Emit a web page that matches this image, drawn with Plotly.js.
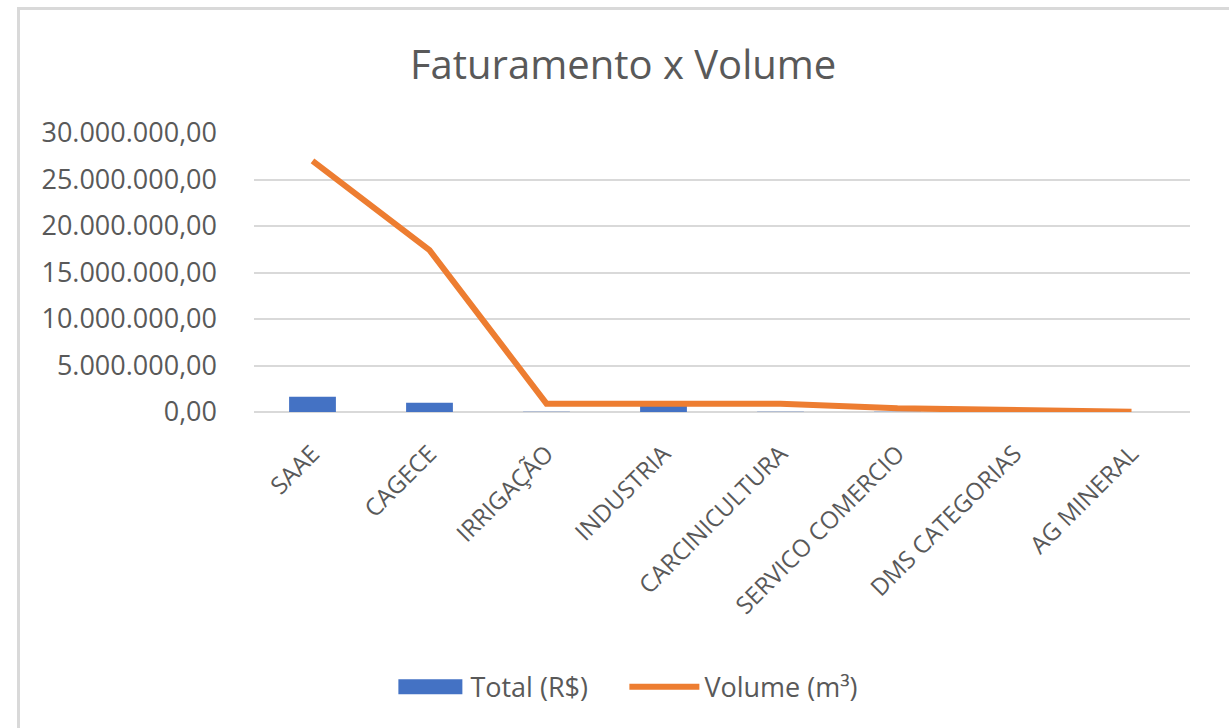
<!DOCTYPE html>
<html>
<head>
<meta charset="utf-8">
<script src="https://cdn.plot.ly/plotly-3.0.1.min.js"></script>
<style>
  html, body { margin: 0; padding: 0; background: #ffffff; overflow: hidden; }
  #frame { position: absolute; left: 17px; top: 7px; width: 1220px; height: 760px; border: 3px solid #d9d9d9; box-sizing: border-box; }
  #chart { position: absolute; left: 0; top: 0; width: 1229px; height: 728px; }
</style>
</head>
<body>
<div id="frame"></div>
<div id="chart"></div>
<script>
const categories = ["SAAE", "CAGECE", "IRRIGAÇÃO", "INDUSTRIA", "CARCINICULTURA", "SERVICO COMERCIO", "DMS CATEGORIAS", "AG MINERAL"];
const totalRS = [1650000, 1000000, 20000, 750000, 20000, 15000, 10000, 3000];
const volumeM3 = [27000000, 17400000, 900000, 900000, 900000, 390000, 180000, 30000];
const yTicks = [0, 5000000, 10000000, 15000000, 20000000, 25000000, 30000000];

const font = "Open Sans, Noto Sans, sans-serif";
const grey = "#595959";

const traces = [
  {
    type: "bar",
    name: "Total (R$)",
    x: categories,
    y: totalRS,
    marker: { color: "#4472C4" },
    hoverinfo: "skip"
  },
  {
    type: "scatter",
    mode: "lines",
    name: "Volume (m³)",
    x: categories,
    y: volumeM3,
    line: { color: "#ED7D31", width: 6 },
    hoverinfo: "skip"
  }
];

const layout = {
  width: 1229,
  height: 728,
  paper_bgcolor: "rgba(0,0,0,0)",
  plot_bgcolor: "rgba(0,0,0,0)",
  separators: ",.",
  margin: { l: 254, r: 39, t: 133, b: 316 },
  font: { family: font, color: grey, size: 22 },
  title: {
    text: "Faturamento x Volume",
    font: { family: font, size: 40, color: grey },
    x: 0.507, xref: "container", xanchor: "center",
    y: 0.911, yref: "container", yanchor: "middle"
  },
  bargap: 0.6,
  showlegend: true,
  legend: {
    orientation: "h",
    x: 0.1457, xanchor: "left",
    y: -0.986, yanchor: "middle",
    font: { family: font, size: 27, color: grey },
    itemwidth: 70,
    entrywidth: 149,
    entrywidthmode: "pixels",
    traceorder: "normal"
  },
  xaxis: {
    type: "category",
    tickangle: -45,
    tickfont: { family: font, size: 24, color: grey },
    showgrid: false,
    showline: false,
    zeroline: false,
    ticks: "",
    ticklabelstandoff: 22,
    fixedrange: true
  },
  yaxis: {
    range: [0, 30000000],
    tickvals: yTicks,
    tickformat: ",.2f",
    tickfont: { family: font, size: 27, color: grey },
    showgrid: true,
    gridcolor: "#d9d9d9",
    gridwidth: 2,
    zeroline: true,
    zerolinecolor: "#d9d9d9",
    zerolinewidth: 2,
    showline: false,
    ticks: "",
    ticklabelstandoff: 36,
    fixedrange: true
  }
};

function widenBarSwatch(gd) {
  // widen the bar legend swatch to the wide rectangle used in the reference
  gd.querySelectorAll(".legend .legendpoints path").forEach(function (p) {
    const fill = (p.style.fill || p.getAttribute("fill") || "").replace(/\s/g, "");
    if (fill === "rgb(68,114,196)" || fill.toLowerCase() === "#4472c4") {
      p.setAttribute("d", "M32,7.5H-32V-7.5H32Z");
    }
  });
}

Plotly.newPlot("chart", traces, layout, { displayModeBar: false, staticPlot: true }).then(function (gd) {
  widenBarSwatch(gd);
  setTimeout(function () { widenBarSwatch(gd); }, 50);
});
</script>
</body>
</html>
